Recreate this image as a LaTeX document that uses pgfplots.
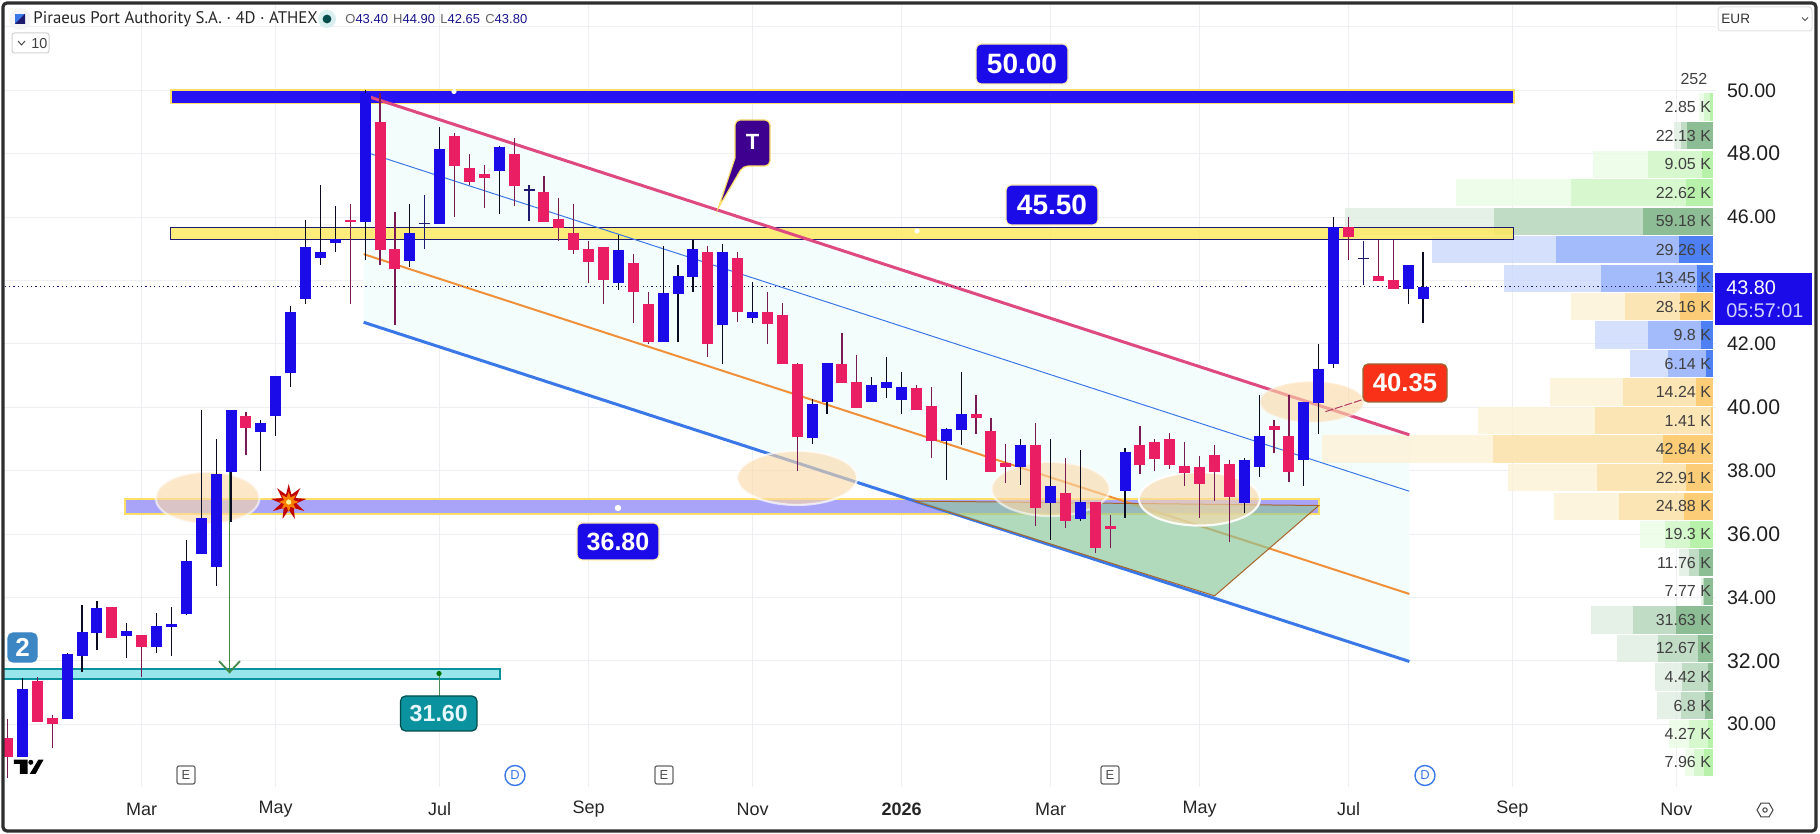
\documentclass[border=0pt]{standalone}
\usepackage{pgfplots}
\pgfplotsset{compat=1.18}
\usepackage{pgfplotstable}
\usepackage{fontspec}
\setmainfont{Liberation Sans}
\newfontfamily\ptsans{PT Sans}
\usetikzlibrary{shapes.geometric}
\definecolor{bl}{HTML}{1B0BE8}
\definecolor{band}{HTML}{2813F2}
\definecolor{rd}{HTML}{E91E63}
\definecolor{wup}{HTML}{0A0A20}
\definecolor{wdn}{HTML}{7A1A55}
\definecolor{navy}{HTML}{1E1A70}
\definecolor{gridc}{HTML}{EDEFF3}
\definecolor{chan}{HTML}{F3FDFC}
\definecolor{pinkl}{HTML}{DE4A80}
\definecolor{bluel}{HTML}{3B78E7}
\definecolor{orl}{HTML}{F0903A}
\definecolor{yb}{HTML}{FFE066}
\definecolor{ybb}{HTML}{FFE95A}
\definecolor{purb}{HTML}{A9A4F8}
\definecolor{cyb}{HTML}{99E5EC}
\definecolor{tealb}{HTML}{0A929E}
\definecolor{lgA}{HTML}{EBFCE6}\definecolor{lgB}{HTML}{D4F7CB}\definecolor{lgC}{HTML}{B2F0A4}
\definecolor{dgA}{HTML}{E1EDE2}\definecolor{dgB}{HTML}{BCD9C0}\definecolor{dgC}{HTML}{84B98C}
\definecolor{buA}{HTML}{CCDAFC}\definecolor{buB}{HTML}{9BB5FB}\definecolor{buC}{HTML}{3F74F2}
\definecolor{orA}{HTML}{FDF2D8}\definecolor{orB}{HTML}{FCE2AE}\definecolor{orC}{HTML}{FCC86C}
\definecolor{ell}{HTML}{FBD9A8}
\definecolor{zoneg}{HTML}{8FC79A}
\definecolor{arrg}{HTML}{3F8A48}
\definecolor{tagred}{HTML}{F93119}
\definecolor{tagblue}{HTML}{3C86C4}
% x top bot high low
\pgfplotstableread{
x top bot h l
1 31.12 28.98 31.46 28.98
4 32.22 30.15 32.24 30.15
5 32.91 32.14 33.76 31.66
6 33.67 32.89 33.89 32.35
8 32.94 32.79 33.20 32.09
10 33.10 32.45 33.51 32.25
11 33.17 33.07 33.70 32.16
12 35.15 33.48 35.82 33.45
13 36.51 35.37 39.92 35.37
14 37.90 34.97 39.00 34.37
15 39.92 37.97 39.92 36.37
17 39.51 39.23 39.60 38.00
18 40.99 39.73 40.99 39.10
19 43.01 41.09 43.20 40.65
20 45.06 43.40 45.91 43.27
21 44.89 44.72 47.01 44.49
22 45.30 45.19 46.35 44.91
24 49.90 45.83 50.00 44.66
27 45.50 44.60 46.41 44.41
29 48.15 45.79 48.84 45.79
33 48.21 47.46 48.24 46.11
41 44.96 43.93 45.44 43.70
44 43.60 42.07 45.09 42.07
45 44.14 43.58 44.49 42.07
46 44.99 44.12 45.28 43.65
48 44.90 42.58 45.15 41.37
50 43.01 42.80 43.95 42.67
54 40.10 39.04 40.26 38.85
55 41.40 40.17 41.40 39.80
58 40.70 40.15 40.96 40.15
59 40.80 40.62 41.59 40.29
60 40.64 40.24 41.11 39.80
63 39.31 38.95 39.35 37.72
64 39.79 39.29 41.11 38.81
68 38.81 38.10 39.00 37.55
70 37.52 36.99 39.00 35.81
72 37.02 36.48 38.65 36.42
75 38.59 37.36 38.72 36.51
83 38.34 36.99 38.40 36.67
84 39.10 38.10 40.39 37.81
87 40.17 38.32 40.17 37.52
88 41.21 40.14 41.99 39.16
89 45.68 41.38 45.99 41.25
94 44.49 43.74 44.49 43.27
95 43.80 43.40 44.90 42.67
}\upcandles
\pgfplotstableread{
x top bot h l
0 29.57 28.96 30.17 28.31
2 31.37 30.08 31.48 30.08
3 30.20 30.01 30.29 29.25
7 33.70 32.73 33.70 32.73
9 32.82 32.45 32.82 31.50
16 39.71 39.33 39.85 38.50
23 45.91 45.83 46.41 43.27
25 49.00 44.97 49.90 44.49
26 44.99 44.37 46.16 42.61
30 48.56 47.62 48.65 46.01
31 47.55 47.12 47.99 47.01
32 47.36 47.24 47.64 46.30
34 47.99 46.99 48.50 46.36
36 46.79 45.83 47.30 45.83
37 45.94 45.64 46.60 45.23
38 45.50 44.97 46.41 44.85
39 44.99 44.59 45.23 43.91
40 45.06 44.00 45.06 43.27
42 44.55 43.62 44.84 42.67
43 43.26 42.07 43.64 42.00
47 44.90 41.98 45.09 41.60
49 44.71 42.99 44.90 42.70
51 43.01 42.63 43.64 42.00
52 42.91 41.37 43.29 41.37
53 41.37 39.07 41.40 37.99
56 41.37 40.75 42.34 40.75
57 40.80 39.99 41.65 39.99
61 40.61 39.90 40.70 39.90
62 40.04 38.95 40.64 38.41
65 39.79 39.66 40.39 39.16
66 39.25 37.96 39.66 37.96
67 38.24 38.10 38.84 37.61
69 38.81 36.83 39.50 36.26
71 37.30 36.42 38.40 36.19
73 37.02 35.56 37.02 35.40
74 36.25 36.16 36.60 35.56
76 38.81 38.19 39.41 37.90
77 38.91 38.38 39.00 37.99
78 39.00 38.19 39.19 38.05
79 38.15 37.94 38.91 37.52
80 38.12 37.59 38.46 36.51
81 38.50 37.96 38.81 37.04
82 38.21 37.18 38.34 35.75
85 39.41 39.29 39.60 38.56
86 39.10 37.96 40.39 37.64
90 45.68 45.38 45.99 44.66
92 44.14 43.99 45.28 43.99
93 44.02 43.74 45.28 43.74
}\downcandles
\pgfplotstableread{
x top bot h l
28 45.81 45.77 46.70 45.00
35 46.87 46.83 47.01 45.86
91 44.72 44.68 45.25 43.87
}\dojicandles
% volume profile row: y, outer left, middle left, inner left, colour family, label
\newcommand\prow[6]{%
 \addplot[draw=#5A,draw opacity=.85,line width=13.6pt] coordinates {(#2,#1)(114.44,#1)};
 \addplot[draw=#5B,draw opacity=.85,line width=13.6pt] coordinates {(#3,#1)(114.44,#1)};
 \addplot[draw=#5C,draw opacity=.85,line width=13.6pt] coordinates {(#4,#1)(114.44,#1)};
 \node[anchor=east,inner sep=0pt,font=\fontsize{8}{9}\selectfont,text=black!75] at (axis cs:114.35,#1) {#6};
}
\newcommand\band[8]{% left right top bottom fill draw opacity linewidth
 \addplot[fill=#5,draw=#6,line width=#8,fill opacity=#7] coordinates {(#1,#3)(#2,#3)(#2,#4)(#1,#4)} -- cycle;
}
\newcommand\oell[5]{% i p rx ry whiteopacity (px)
 \draw[fill=ell,fill opacity=.62,draw=white,draw opacity=#5,line width=1.1pt] (axis cs:#1,#2) ellipse [x radius=#3*0.5pt,y radius=#4*0.5pt];
}
\newcommand\candles[3]{% table wickcolor bodycolor
 \addplot[draw=none,mark=none,error bars/.cd,y dir=both,y explicit,error mark=none,error bar style={solid,draw=#2,line width=.6pt}]
   table[x=x,y=top,y error plus expr=\thisrow{h}-\thisrow{top},y error minus expr=\thisrow{top}-\thisrow{l}] {#1};
 \addplot[draw=none,mark=none,error bars/.cd,y dir=minus,y explicit,error mark=none,error bar style={solid,draw=#3,line width=5.5pt}]
   table[x=x,y=top,y error minus expr=\thisrow{top}-\thisrow{bot}] {#1};
}
\newcommand\bigt[1]{{\fontsize{10.6}{12}\selectfont #1}}
\newcommand\evE[1]{\node[draw=black!60,line width=.6pt,rounded corners=1pt,minimum width=9pt,minimum height=9pt,inner sep=0pt,text=black!70,font=\fontsize{6.5}{7}\selectfont] at (#1,775) {E};}
\newcommand\evD[1]{\node[circle,draw=bluel,line width=.7pt,minimum size=10pt,inner sep=0pt,text=bluel,font=\fontsize{6.5}{7}\selectfont] at (#1,775.5) {D};}
\newcommand\tag[8]{% x1 y1 x2 y2 fill border textcolour text(with size)
 \draw[fill=#5,draw=#6,line width=.6pt,rounded corners=2.5pt] (#1,#2) rectangle (#3,#4);
 \node[text=#7,inner sep=0pt,font=\bfseries] at ({(#1+#3)/2},{(#2+#4)/2}) {#8};
}
\begin{document}
\begin{tikzpicture}
\useasboundingbox (-2pt,-23.5pt) rectangle (908pt,393.5pt);
\begin{axis}[
 at={(0pt,0pt)},anchor=south west,scale only axis,
 width=856pt,height=391pt,
 xmin=-0.235,xmax=114.66,ymin=28.02,ymax=52.69,
 axis line style={draw=none},major tick length=0pt,
 grid=major,grid style={gridc,line width=.5pt},
 ytick={30,32,34,36,38,40,42,46,48,50,52},
 yticklabels={30.00,\bigt{32.00},34.00,\bigt{36.00},38.00,\bigt{40.00},42.00,46.00,\bigt{48.00},50.00,{}},
 yticklabel pos=right,
 yticklabel style={anchor=west,inner sep=0pt,xshift=5.3pt,font=\fontsize{9.8}{11}\selectfont,text=black!88},
 xtick={9,18,29,39,50,60,70,80,90,101,112},
 xticklabels={Mar,May,Jul,Sep,Nov,\textbf{2026},Mar,May,Jul,Sep,Nov},
 xticklabel style={anchor=center,inner sep=0pt,yshift=-11pt,font=\fontsize{9}{10}\selectfont,text=black!85},
 extra y ticks={44},extra y tick labels={},
]
% parallel channel
\addplot[fill=chan,draw=none] coordinates {(23.9,49.85)(94.08,39.13)(94.08,31.98)(23.9,42.68)} -- cycle;
% volume profile
\prow{49.47}{113.52}{113.86}{114.28}{lg}{2.85 K}
\prow{48.57}{111.85}{112.31}{112.72}{dg}{22.13 K}
\prow{47.67}{106.41}{110.10}{113.72}{lg}{9.05 K}
\prow{46.77}{97.21}{104.95}{112.65}{lg}{22.62 K}
\prow{45.87}{89.77}{99.76}{109.77}{dg}{59.18 K}
\prow{44.97}{95.60}{103.93}{112.18}{bu}{29.26 K}
\prow{44.07}{100.44}{106.95}{113.39}{bu}{13.45 K}
\prow{43.17}{104.95}{108.56}{112.25}{or}{28.16 K}
\prow{42.28}{106.54}{110.10}{113.66}{bu}{9.8 K}
\prow{41.38}{108.89}{111.44}{114.00}{bu}{6.14 K}
\prow{40.48}{103.52}{108.42}{113.32}{or}{14.24 K}
\prow{39.58}{98.69}{106.54}{114.33}{or}{1.41 K}
\prow{38.68}{88.24}{99.70}{111.11}{or}{42.84 K}
\prow{37.78}{100.71}{106.68}{112.65}{or}{22.91 K}
\prow{36.88}{103.79}{108.15}{112.52}{or}{24.88 K}
\prow{35.99}{109.56}{111.24}{112.92}{lg}{19.3 K}
\prow{35.09}{112.18}{112.85}{113.52}{dg}{11.76 K}
\prow{34.19}{113.68}{113.77}{113.86}{dg}{7.77 K}
\prow{33.29}{106.27}{109.09}{111.98}{dg}{31.63 K}
\prow{32.39}{108.02}{110.77}{113.46}{dg}{12.67 K}
\prow{31.49}{110.57}{112.38}{114.13}{dg}{4.42 K}
\prow{30.59}{110.70}{112.31}{113.93}{dg}{6.8 K}
\prow{29.69}{111.51}{112.85}{114.13}{lg}{4.27 K}
\prow{28.80}{112.58}{113.19}{113.86}{lg}{7.96 K}
\node[anchor=east,inner sep=0pt,font=\fontsize{8}{9}\selectfont,text=black!75] at (axis cs:114.1,50.35) {252};
% horizontal bands
\band{10.97}{101.1}{50.00}{49.58}{band}{yb}{1}{.9pt}
\band{10.97}{101.06}{45.68}{45.30}{ybb}{navy}{.8}{.5pt}
\band{7.9}{88.0}{37.11}{36.64}{purb}{yb}{1}{.9pt}
\band{-1}{33.04}{31.75}{31.42}{cyb}{tealb}{1}{.9pt}
% channel lines
\addplot[pinkl,line width=1.5pt] coordinates {(23.9,49.85)(94.08,39.13)};
\addplot[bluel,line width=1.5pt] coordinates {(23.9,42.68)(94.08,31.98)};
\addplot[orl,line width=1pt] coordinates {(23.9,44.83)(94.08,34.11)};
\addplot[bluel,line width=.5pt] coordinates {(23.9,48.07)(94.08,37.35)};
% target zone
\addplot[fill=zoneg,fill opacity=.65,draw=orl!70!black,line width=.5pt] coordinates {(60.88,37.04)(88.0,36.90)(81.01,34.05)} -- cycle;
% ellipses
\oell{13.43}{37.14}{52}{26}{.6}
\oell{52.99}{37.77}{60}{27}{.7}
\oell{70.0}{37.42}{59}{27}{.6}
\oell{79.99}{37.11}{60.5}{26.7}{.9}
\oell{87.54}{40.17}{52}{20.5}{.3}
% arrow
\addplot[arrg,line width=.9pt] coordinates {(14.9,37.97)(14.9,31.64)};
\addplot[arrg,line width=.9pt] coordinates {(14.2,31.99)(14.9,31.64)(15.6,31.99)};
% last price
\addplot[navy,line width=.5pt,dash pattern=on .6pt off 1.6pt] coordinates {(-0.2,43.80)(114.44,43.80)};
% candles
\candles{\upcandles}{wup}{bl}
\candles{\downcandles}{wdn}{rd}
\candles{\dojicandles}{navy}{navy}
% connector of 40.35
\addplot[pinkl!80!black,line width=.5pt,dash pattern=on 4pt off 1pt] coordinates {(88.45,39.86)(91.0,40.25)};
% connector of 31.60
\addplot[arrg!80!gray,line width=.7pt] coordinates {(29,31.58)(29,30.4)};
\end{axis}
\begin{scope}[x=0.5pt,y=-0.5pt,shift={(-2pt,393.5pt)}]
 % frame
 \draw[draw=black!82,line width=1.6pt,rounded corners=2pt] (3,3) rectangle (1816,831);
 % header
 \fill[black!4] (20,19) circle (5.5pt);
 \fill[bluel] (15,14) -- (25,14) -- (25,24) -- (15,24) -- cycle;
 \fill[navy] (25,14) -- (25,24) -- (15,24) -- cycle;
 \node[anchor=west,inner sep=0pt,font=\ptsans\fontsize{8.4}{10}\selectfont,text=black!85] at (33,19) {Piraeus Port Authority S.A. · 4D · ATHEX};
 \fill[tealb!15] (327,19) circle (4.5pt);
 \fill[black!40!teal] (327,19) circle (2.2pt);
 \node[anchor=west,inner sep=0pt,font=\fontsize{6.5}{9}\selectfont,text=navy!80!blue] at (345,19) {{\color{black!60}O}43.40\hspace{.4em}{\color{black!60}H}44.90\hspace{.4em}{\color{black!60}L}42.65\hspace{.4em}{\color{black!60}C}43.80};
 \draw[black!18,line width=.5pt,rounded corners=1.2pt,fill=white] (12,33) rectangle (49,53);
 \draw[black!70,line width=.5pt] (18,41) -- (21.5,45) -- (25,41);
 \node[anchor=west,inner sep=0pt,font=\fontsize{7.2}{9}\selectfont,text=black!75] at (31,43.5) {10};
 % EUR box
 \draw[black!12,line width=.5pt,rounded corners=1.5pt,fill=white] (1718,7) rectangle (1812,31);
 \node[anchor=west,inner sep=0pt,font=\fontsize{6.8}{8}\selectfont,text=black!80] at (1721,19) {EUR};
 \draw[black!70,line width=.5pt] (1802,17.5) -- (1805,20.5) -- (1808,17.5);
 % price tag
 \fill[bl] (1714.5,273) rectangle (1812,325);
 \node[anchor=west,inner sep=0pt,font=\fontsize{9.9}{11}\selectfont,text=white] at (1726,288) {43.80};
 \node[anchor=west,inner sep=0pt,font=\fontsize{9.9}{11}\selectfont,text=blue!18] at (1726,311) {05:57:01};
 % level tags
 \tag{976}{44}{1068}{84}{bl}{yb!50}{white}{\fontsize{14}{16}\selectfont 50.00}
 \tag{1006}{185}{1098}{225}{bl}{yb!50}{white}{\fontsize{14}{16}\selectfont 45.50}
 \tag{577}{523}{659}{560}{bl}{yb!50}{white}{\fontsize{12.5}{14}\selectfont 36.80}
 \tag{400.5}{696}{477}{731}{tealb}{black!40!teal}{cyan!10}{\fontsize{11.6}{14}\selectfont 31.60}
 \tag{1363}{364}{1447}{402}{tagred}{brown!80!black}{white}{\fontsize{12.8}{15}\selectfont 40.35}
 \tag{8}{633}{37}{662}{tagblue}{tagblue}{white}{\fontsize{13}{15}\selectfont 2}
 % handles
 \fill[white] (454,91.5) circle (1.3pt);
 \fill[white] (917,231) circle (1.3pt);
 \fill[white] (618,508) circle (1.6pt);
 \fill[black!55!green] (439,673.5) circle (1.3pt);
 % callout T
 \draw[fill=violet!60!blue!80!black,draw=yb,line width=.6pt,rounded corners=2.5pt] (735,120) -- (770,120) -- (770,166) -- (743,166) [sharp corners] -- (718.3,208) -- (735,158) [rounded corners=2.5pt] -- cycle;
 \node[text=white,inner sep=0pt,font=\bfseries\fontsize{11}{13}\selectfont] at (752.5,142) {T};
 % explosion
 \node[star,star points=9,star point ratio=2.3,fill=red!75!black,minimum size=18pt,inner sep=0pt] at (288.7,502) {};
 \node[star,star points=8,star point ratio=2,fill=orange,minimum size=10pt,inner sep=0pt] at (288.7,502) {};
 \fill[yellow!40!white] (288.7,502) circle (1.3pt);
 % events
 \evE{186}\evE{664}\evE{1110}
 \evD{515}\evD{1425}
 % tradingview logo
 \fill[black] (13.8,759.7) -- (27.7,759.7) -- (27.7,774) -- (19.8,774) -- (19.8,764) -- (13.8,764) -- cycle;
 \fill[black] (30.8,762.3) circle (1.25pt);
 \fill[black] (38.4,759.7) -- (43.5,759.7) -- (35.6,774) -- (29.7,774) -- cycle;
 % settings
 \node[regular polygon,regular polygon sides=6,draw=black!75,line width=.5pt,minimum size=8pt,inner sep=0pt] at (1765,810) {};
 \draw[black!75,line width=.5pt] (1765,810) circle (1.1pt);
\end{scope}
\end{tikzpicture}
\end{document}
